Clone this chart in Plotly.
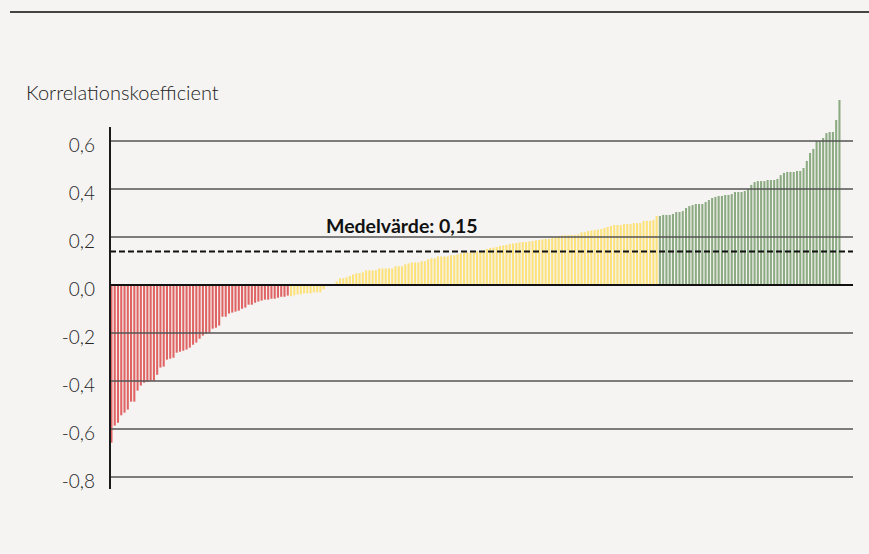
import plotly.graph_objects as go

# sorted correlation coefficients
red_values = [
    -0.657, -0.586, -0.574, -0.543, -0.532, -0.519, -0.486, -0.486, -0.44, -0.419,
    -0.407, -0.403, -0.399, -0.399, -0.374, -0.344, -0.34, -0.311, -0.307, -0.303,
    -0.282, -0.278, -0.274, -0.269, -0.261, -0.249, -0.24, -0.224, -0.211, -0.203,
    -0.199, -0.182, -0.178, -0.169, -0.132, -0.132, -0.119, -0.115, -0.111, -0.107,
    -0.099, -0.094, -0.082, -0.082, -0.074, -0.069, -0.065, -0.061, -0.061, -0.057,
    -0.057, -0.053, -0.049, -0.049, -0.044,
]
yellow_values = [
    -0.047, -0.043, -0.039, -0.039, -0.035, -0.035, -0.035, -0.031, -0.031, -0.031,
    -0.018, -0.003, 0.002, 0.004,
    0.015, 0.028, 0.028, 0.032, 0.0375, 0.044, 0.049, 0.049, 0.053, 0.061,
    0.061, 0.061, 0.061, 0.069, 0.069, 0.069, 0.069, 0.069, 0.078, 0.078,
    0.078, 0.086, 0.09, 0.094, 0.094, 0.094, 0.099, 0.099, 0.107, 0.111,
    0.111, 0.119, 0.119, 0.119, 0.119, 0.124, 0.124, 0.128, 0.132, 0.136,
    0.136, 0.136, 0.136,
    0.14, 0.14, 0.143, 0.15, 0.154, 0.156, 0.158, 0.1625, 0.165, 0.167,
    0.171, 0.173, 0.175, 0.177, 0.179, 0.179, 0.181, 0.183, 0.186, 0.1875,
    0.19, 0.192, 0.192, 0.196, 0.2, 0.204, 0.206, 0.207, 0.207,
    0.208, 0.208, 0.21, 0.2195, 0.22, 0.225, 0.227, 0.229, 0.231, 0.233,
    0.2375, 0.242, 0.246, 0.25, 0.25, 0.25, 0.254, 0.254, 0.254, 0.258,
    0.258, 0.258, 0.267, 0.267, 0.267, 0.271, 0.2875,
]
green_values = [
    0.2875, 0.292, 0.292, 0.292, 0.296, 0.304, 0.304, 0.308, 0.321, 0.329,
    0.333, 0.3375, 0.3375, 0.3375, 0.346, 0.354, 0.3625, 0.367, 0.371, 0.371,
    0.375, 0.375, 0.379, 0.3875, 0.3875, 0.3875, 0.392, 0.4, 0.417, 0.429,
    0.433, 0.433, 0.433, 0.4375, 0.4375, 0.4375, 0.442, 0.458, 0.467, 0.471,
    0.471, 0.471, 0.475, 0.475, 0.4875, 0.517, 0.55, 0.567, 0.6, 0.6,
    0.6125, 0.633, 0.6375, 0.6375, 0.6875, 0.771,
]

mean_line = 0.14
mean_label = "Medelvärde: 0,15"
y_title = "Korrelationskoefficient"
tick_values = [-0.8, -0.6, -0.4, -0.2, 0.0, 0.2, 0.4, 0.6]
tick_labels = ["-0,8", "-0,6", "-0,4", "-0,2", "0,0", "0,2", "0,4", "0,6"]

RED = "#e06464"
YELLOW = "#fde27c"
GREEN = "#8dab83"
BG = "#f5f4f2"
FONT = "Lato, 'Open Sans', sans-serif"

values = red_values + yellow_values + green_values
colors = [RED] * len(red_values) + [YELLOW] * len(yellow_values) + [GREEN] * len(green_values)
n = len(values)

fig = go.Figure()
fig.add_bar(
    x=list(range(n)),
    y=values,
    marker=dict(color=colors, line_width=0),
    hoverinfo="y",
)

# gridlines drawn over the bars
shapes = []
for v in tick_values:
    if v == 0:
        continue
    shapes.append(dict(type="line", xref="paper", yref="y", x0=0, x1=1, y0=v, y1=v,
                       line=dict(color="#555555", width=1.4), layer="above"))
shapes.append(dict(type="line", xref="paper", yref="y", x0=0, x1=1, y0=0, y1=0,
                   line=dict(color="#111111", width=2), layer="above"))
shapes.append(dict(type="line", xref="paper", yref="y", x0=0, x1=1, y0=mean_line, y1=mean_line,
                   line=dict(color="#111111", width=2, dash="6px,3px"), layer="above"))
# y axis line
shapes.append(dict(type="line", xref="paper", yref="y", x0=0, x1=0, y0=-0.85, y1=0.658,
                   line=dict(color="#1a1a1a", width=2), layer="above"))
# top rule
shapes.append(dict(type="line", xref="paper", yref="paper", x0=-0.1346, x1=1.03, y0=1.2188, y1=1.2188,
                   line=dict(color="#444444", width=2)))

fig.update_layout(
    width=869,
    height=554,
    margin=dict(l=110, r=16, t=98, b=63),
    paper_bgcolor=BG,
    plot_bgcolor=BG,
    bargap=0.36,
    showlegend=False,
    font=dict(family=FONT, color="#333333"),
    shapes=shapes,
    xaxis=dict(range=[-0.45, 227.15], showgrid=False, zeroline=False, showticklabels=False,
               showline=False, fixedrange=True),
    yaxis=dict(range=[-0.85833, 0.77917], showgrid=False, zeroline=False, showline=False,
               tickvals=tick_values, ticktext=tick_labels, ticks="",
               tickfont=dict(size=19, color="#262626", family=FONT, weight=300),
               ticklabelstandoff=14, ticklabelshift=4, fixedrange=True),
    annotations=[
        dict(text=mean_label, xref="paper", yref="y", x=0.393, y=0.246, showarrow=False,
             xanchor="center", yanchor="middle",
             font=dict(size=19.5, color="#111111", family=FONT, weight="bold")),
        dict(text=y_title, xref="paper", yref="paper", x=-0.1157, y=1.016, showarrow=False,
             xanchor="left", yanchor="middle",
             font=dict(size=20, color="#222222", family=FONT, weight=300)),
    ],
)

fig.write_html("out.html", config={"displayModeBar": False},
               post_script="document.body.style.margin='0';")
